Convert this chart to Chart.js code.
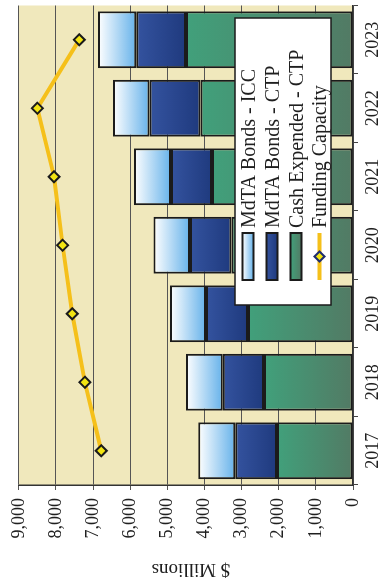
<!DOCTYPE html>
<html>
<head>
<meta charset="utf-8">
<script src="https://cdn.jsdelivr.net/npm/chart.js@4.4.1/dist/chart.umd.min.js"></script>
<style>
  html, body { margin: 0; padding: 0; background: #fff; overflow: hidden; }
  /* chart is drawn upright, then turned on its side */
  #wrap {
    position: absolute; left: 0; top: 0;
    width: 592px; height: 380px;
    transform-origin: 0 0;
    transform: translate(0, 590px) rotate(-90deg);
  }
</style>
</head>
<body>
<div id="wrap"><canvas id="myChart" width="592" height="380"></canvas></div>
<script>
const years = ["2017", "2018", "2019", "2020", "2021", "2022", "2023"];
const cashExpended = [2050, 2400, 2830, 3270, 3800, 4110, 4495];
const bondsCtp = [1120, 1110, 1130, 1120, 1100, 1370, 1340];
const bondsIcc = [1000, 990, 965, 980, 1000, 980, 1030];
const fundingCapacity = [6780, 7220, 7560, 7820, 8050, 8500, 7370];
const yTicks = [0, 1000, 2000, 3000, 4000, 5000, 6000, 7000, 8000, 9000];
const yTitle = "$ Millions";

const serif = "'Liberation Serif', 'DejaVu Serif', serif";
const stacks = [cashExpended, bondsCtp, bondsIcc];

// vertical gradient spanning one stacked segment
let segmentFill = (topColor, bottomColor) => (context) => {
    const chart = context.chart;
    const y = chart.scales.y;
    if (!y || !chart.chartArea) return bottomColor;
    const i = context.dataIndex;
    let base = 0;
    for (let d = 0; d < context.datasetIndex; d++) base += stacks[d][i];
    const top = y.getPixelForValue(base + stacks[context.datasetIndex][i]);
    const bottom = y.getPixelForValue(base);
    const g = chart.ctx.createLinearGradient(0, top, 0, bottom);
    g.addColorStop(0, topColor);
    g.addColorStop(1, bottomColor);
    return g;
};

const plotBackground = {
    id: "plotBackground",
    beforeDraw(chart) {
        const { ctx, chartArea: a } = chart;
        ctx.save();
        ctx.fillStyle = "#f0e8bc";
        ctx.fillRect(a.left, a.top, a.right - a.left, a.bottom - a.top);
        ctx.restore();
    }
};

// axis title, placed by hand a little below the middle of the axis
const axisTitle = {
    id: "axisTitle",
    afterDraw(chart) {
        const ctx = chart.ctx;
        ctx.save();
        ctx.translate(21, 191);
        ctx.rotate(-Math.PI / 2);
        ctx.fillStyle = "#1f1f1f";
        ctx.font = "19px " + serif;
        ctx.textAlign = "center";
        ctx.textBaseline = "middle";
        ctx.fillText(yTitle, 0, 0);
        ctx.restore();
    }
};

// boxed legend sitting inside the plot
const boxLegend = {
    id: "boxLegend",
    afterDraw(chart) {
        const ctx = chart.ctx;
        const box = { x: 285, y: 235, w: 287, h: 96 };
        ctx.save();
        ctx.fillStyle = "#ffffff";
        ctx.strokeStyle = "#1b1b1b";
        ctx.lineWidth = 1.5;
        ctx.fillRect(box.x, box.y, box.w, box.h);
        ctx.strokeRect(box.x, box.y, box.w, box.h);

        const rows = [248, 272, 296, 319.5];
        const ds = chart.data.datasets;
        const items = [ds[2], ds[1], ds[0], ds[3]];
        const swatchColors = [["#ffffff", "#66b2ea"], ["#34539f", "#1f3a7e"], ["#41a07b", "#527a64"]];

        items.forEach((item, k) => {
            const cy = rows[k];
            if (item.type === "line") {
                ctx.strokeStyle = item.borderColor;
                ctx.lineWidth = 4;
                ctx.beginPath();
                ctx.moveTo(310, cy);
                ctx.lineTo(357, cy);
                ctx.stroke();
                ctx.beginPath();
                ctx.moveTo(333.5 - 5, cy);
                ctx.lineTo(333.5, cy - 5);
                ctx.lineTo(333.5 + 5, cy);
                ctx.lineTo(333.5, cy + 5);
                ctx.closePath();
                ctx.fillStyle = item.pointBackgroundColor;
                ctx.fill();
                ctx.strokeStyle = "#1e2d6e";
                ctx.lineWidth = 2;
                ctx.stroke();
            } else {
                const g = ctx.createLinearGradient(0, cy - 5.5, 0, cy + 5.5);
                g.addColorStop(0, swatchColors[k][0]);
                g.addColorStop(1, swatchColors[k][1]);
                ctx.fillStyle = g;
                ctx.fillRect(310, cy - 5.5, 47, 11);
                ctx.strokeStyle = "#1b1b1b";
                ctx.lineWidth = 2;
                ctx.strokeRect(310, cy - 5.5, 47, 11);
            }
            ctx.fillStyle = "#1f1f1f";
            ctx.font = "20px " + serif;
            ctx.textBaseline = "alphabetic";
            ctx.textAlign = "left";
            ctx.fillText(item.label, 362, cy + 6.5);
        });
        ctx.restore();
    }
};

const barStyle = {
    borderColor: "#1b1b1b",
    borderWidth: 2,
    borderSkipped: false,
    barPercentage: 0.83,
    categoryPercentage: 1,
    order: 1
};

const myChart = new Chart(document.getElementById("myChart"), {
    type: "bar",
    data: {
        labels: years,
        datasets: [
            { label: "Cash Expended - CTP", data: cashExpended, backgroundColor: segmentFill("#41a07b", "#527a64"), ...barStyle },
            { label: "MdTA Bonds - CTP", data: bondsCtp, backgroundColor: segmentFill("#34539f", "#1f3a7e"), ...barStyle },
            { label: "MdTA Bonds - ICC", data: bondsIcc, backgroundColor: segmentFill("#ffffff", "#66b2ea"), ...barStyle },
            {
                type: "line",
                label: "Funding Capacity",
                data: fundingCapacity,
                borderColor: "#f5c01a",
                borderWidth: 4,
                pointStyle: "rectRot",
                pointRadius: 5.5,
                pointBackgroundColor: "#f2e412",
                pointBorderColor: "#1a1a1a",
                pointBorderWidth: 2,
                tension: 0,
                order: 0
            }
        ]
    },
    options: {
        responsive: false,
        devicePixelRatio: 1,
        animation: false,
        layout: { padding: { top: 17, left: 0, right: 0, bottom: 0 } },
        scales: {
            x: {
                stacked: true,
                grid: { display: true, drawOnChartArea: false, offset: true, tickLength: 5, color: "#444" },
                border: { color: "#333", width: 1.5 },
                ticks: { color: "#1f1f1f", font: { family: serif, size: 18 }, padding: 4 },
                afterFit: (scale) => { scale.height = 27; }
            },
            y: {
                stacked: true,
                min: 0,
                max: 9000,
                afterBuildTicks: (scale) => { scale.ticks = yTicks.map(v => ({ value: v })); },
                grid: { color: "#555", lineWidth: 1, tickLength: 5 },
                border: { color: "#333", width: 1.5 },
                ticks: {
                    color: "#1f1f1f",
                    font: { family: serif, size: 18 },
                    padding: 8,
                    callback: (v) => v.toLocaleString("en-US")
                },
                afterFit: (scale) => { scale.width = 105; }
            }
        },
        plugins: {
            legend: { display: false },
            tooltip: { enabled: false }
        }
    },
    plugins: [plotBackground, axisTitle, boxLegend]
});
</script>
</body>
</html>
